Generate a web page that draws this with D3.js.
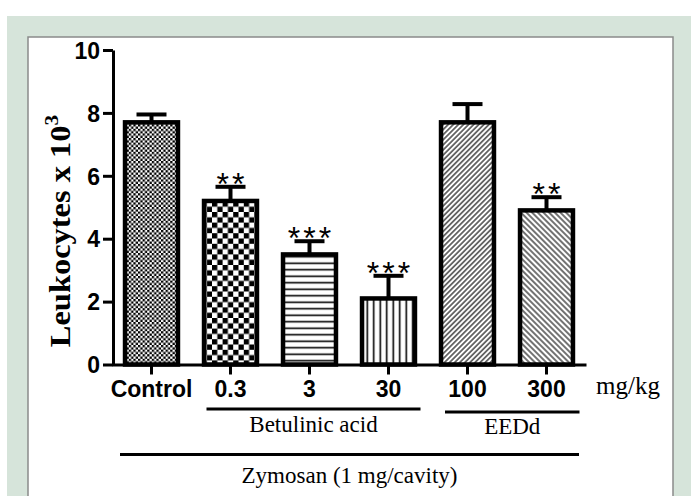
<!DOCTYPE html>
<html>
<head>
<meta charset="utf-8">
<script src="https://cdn.jsdelivr.net/npm/d3@7"></script>
<style>
  body { margin: 0; background: #fff; }
  .tick text { font-family: "Liberation Sans", Arial, sans-serif; font-weight: bold; font-size: 23px; fill: #000; }
</style>
</head>
<body>
<svg id="chart"></svg>
<script>
// Data
const categories = ["Control", "0.3", "3", "30", "100", "300"];
const means = [7.7, 5.2, 3.5, 2.1, 7.7, 4.9];
const errors = [0.25, 0.45, 0.42, 0.72, 0.58, 0.42];
const stars = ["", "**", "***", "***", "", "**"];
const fills = ["fineChecker", "coarseChecker", "hLines", "vLines", "fwdDiag", "backDiag"];
const yTicks = [0, 2, 4, 6, 8, 10];
const groupLabels = ["Betulinic acid", "EEDd", "Zymosan (1 mg/cavity)"];
const groupSpans = [["0.3", "30"], ["100", "300"], ["Control", "300"]];

const W = 691, H = 496;
const svg = d3.select("#chart").attr("width", W).attr("height", H);

// Background frame
svg.append("rect").attr("x", 7).attr("y", 16).attr("width", W - 7).attr("height", H - 16).attr("fill", "#d6e4da");
svg.append("rect").attr("x", 28).attr("y", 37).attr("width", 645).attr("height", H)
  .attr("fill", "#fff").attr("stroke", "#8a8a8a").attr("stroke-width", 1.5);

// Patterns
const defs = svg.append("defs");
const fine = defs.append("pattern").attr("id", "fineChecker").attr("patternUnits", "userSpaceOnUse")
  .attr("width", 4.6).attr("height", 4.6);
fine.append("rect").attr("width", 4.6).attr("height", 4.6).attr("fill", "#fff");
fine.append("rect").attr("width", 2.3).attr("height", 2.3).attr("fill", "#000");
fine.append("rect").attr("x", 2.3).attr("y", 2.3).attr("width", 2.3).attr("height", 2.3).attr("fill", "#000");

const coarse = defs.append("pattern").attr("id", "coarseChecker").attr("patternUnits", "userSpaceOnUse")
  .attr("width", 10.6).attr("height", 10.6);
coarse.append("rect").attr("width", 10.6).attr("height", 10.6).attr("fill", "#fff");
coarse.append("rect").attr("width", 5.3).attr("height", 5.3).attr("fill", "#000");
coarse.append("rect").attr("x", 5.3).attr("y", 5.3).attr("width", 5.3).attr("height", 5.3).attr("fill", "#000");

function linePattern(id, size, angle, sw) {
  const p = defs.append("pattern").attr("id", id).attr("patternUnits", "userSpaceOnUse")
    .attr("width", size).attr("height", size).attr("patternTransform", `rotate(${angle})`);
  p.append("rect").attr("width", size).attr("height", size).attr("fill", "#fff");
  p.append("line").attr("x1", 0).attr("y1", size / 2).attr("x2", size).attr("y2", size / 2)
    .attr("stroke", "#000").attr("stroke-width", sw);
}
linePattern("hLines", 6.5, 0, 1.6);
linePattern("vLines", 6.5, 90, 1.6);
linePattern("fwdDiag", 3.6, -45, 1.1);
linePattern("backDiag", 4.0, 45, 1.1);

// Scales
const x = d3.scaleBand().domain(categories).range([112, 586]).padding(0);
const y = d3.scaleLinear().domain([0, 10]).range([364.5, 50]);
const barW = x.bandwidth() * 0.67;
const cx = c => x(c) + x.bandwidth() / 2;

// Bars
svg.selectAll(".bar").data(categories).enter().append("rect")
  .attr("class", "bar")
  .attr("x", d => cx(d) - barW / 2)
  .attr("y", (d, i) => y(means[i]))
  .attr("width", barW)
  .attr("height", (d, i) => y(0) - y(means[i]))
  .attr("fill", (d, i) => `url(#${fills[i]})`)
  .attr("stroke", "#000").attr("stroke-width", 4.5);

// Error bars
svg.selectAll(".err").data(categories).enter().append("line")
  .attr("x1", d => cx(d)).attr("x2", d => cx(d))
  .attr("y1", (d, i) => y(means[i])).attr("y2", (d, i) => y(means[i] + errors[i]))
  .attr("stroke", "#000").attr("stroke-width", 4);
svg.selectAll(".cap").data(categories).enter().append("line")
  .attr("x1", d => cx(d) - 15).attr("x2", d => cx(d) + 15)
  .attr("y1", (d, i) => y(means[i] + errors[i])).attr("y2", (d, i) => y(means[i] + errors[i]))
  .attr("stroke", "#000").attr("stroke-width", 4);

// Significance stars
svg.selectAll(".star").data(categories).enter().append("text")
  .attr("x", d => cx(d) + 1.5)
  .attr("y", (d, i) => y(means[i] + errors[i]) + 8)
  .attr("text-anchor", "middle")
  .style("font-family", "'Liberation Sans', Arial, sans-serif")
  .style("font-size", "32px")
  .style("letter-spacing", "3px")
  .text((d, i) => stars[i]);

// Axes
const yAxis = svg.append("g").attr("transform", "translate(113,0)")
  .call(d3.axisLeft(y).tickValues(yTicks).tickSize(10).tickSizeOuter(0).tickPadding(3));
const xAxis = svg.append("g").attr("transform", `translate(0,${y(0)})`)
  .call(d3.axisBottom(x).tickSize(10).tickSizeOuter(0).tickPadding(6));
[yAxis, xAxis].forEach(g => {
  g.select(".domain").attr("stroke", "#000").attr("stroke-width", 3);
  g.selectAll(".tick line").attr("stroke", "#000").attr("stroke-width", 3);
});
yAxis.selectAll(".tick text").attr("dy", "0.36em");

// Y axis label
const yLabel = svg.append("text")
  .attr("transform", "translate(70,231) rotate(-90) scale(1.12,1)")
  .attr("text-anchor", "middle")
  .style("font-family", "'Liberation Serif', 'Times New Roman', serif")
  .style("font-weight", "bold")
  .style("font-size", "29px");
yLabel.append("tspan").text("Leukocytes x 10");
yLabel.append("tspan").attr("dy", -12).style("font-size", "19px").text("3");

// Unit label
svg.append("text").attr("x", 596).attr("y", 394)
  .style("font-family", "'Liberation Serif', 'Times New Roman', serif")
  .style("font-size", "25px").text("mg/kg");

// Group brackets
const spanStart = [-24, -22.5, -31.5];
const spanEnd = [32, 33, 32.5];
const lineY = [409, 412, 454.5];
const textY = [432, 434, 483];
groupLabels.forEach((label, i) => {
  const x1 = cx(groupSpans[i][0]) + spanStart[i];
  const x2 = cx(groupSpans[i][1]) + spanEnd[i];
  svg.append("line").attr("x1", x1).attr("x2", x2).attr("y1", lineY[i]).attr("y2", lineY[i])
    .attr("stroke", "#000").attr("stroke-width", 3.2);
  svg.append("text").attr("x", (x1 + x2) / 2).attr("y", textY[i])
    .attr("text-anchor", "middle")
    .style("font-family", "'Liberation Serif', 'Times New Roman', serif")
    .style("font-size", "23px").text(label);
});
</script>
</body>
</html>
